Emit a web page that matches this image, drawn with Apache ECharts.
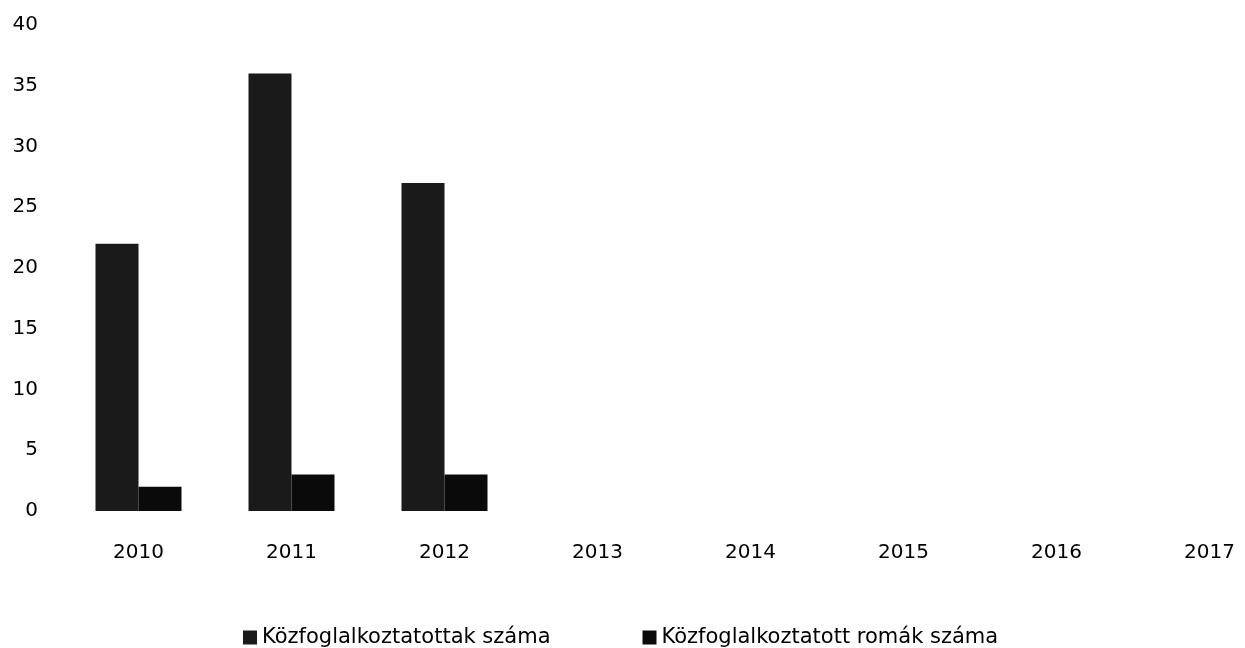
<!DOCTYPE html>
<html>
<head>
<meta charset="utf-8">
<script src="https://cdn.jsdelivr.net/npm/echarts@6/dist/echarts.min.js"></script>
<style>
  html, body { margin: 0; padding: 0; background: #fff; }
  #chart { width: 1245px; height: 648px; }
</style>
</head>
<body>
<div id="chart"></div>
<script>
const years = ['2010', '2011', '2012', '2013', '2014', '2015', '2016', '2017']
const allWorkers = [22, 36, 27, null, null, null, null, null]
const romaWorkers = [2, 3, 3, null, null, null, null, null]
const seriesNames = ['Közfoglalkoztatottak száma', 'Közfoglalkoztatott romák száma']

const font = '"DejaVu Sans", sans-serif'

const option = {
  animation: false,
  textStyle: { fontFamily: font },
  grid: {
    left: 62,
    width: 1224,
    top: 25,
    bottom: 137,
    outerBoundsMode: 'none'
  },
  legend: {
    bottom: -5,
    left: 238,
    itemWidth: 14,
    itemHeight: 14,
    itemGap: 92,
    icon: 'rect',
    textStyle: { fontSize: 21, color: '#000', fontFamily: font },
    data: seriesNames
  },
  xAxis: {
    type: 'category',
    data: years,
    axisLine: { show: false },
    axisTick: { show: false },
    axisLabel: { fontSize: 20, color: '#000', margin: 32 }
  },
  yAxis: {
    type: 'value',
    min: 0,
    max: 40,
    interval: 5,
    axisLine: { show: false },
    axisTick: { show: false },
    splitLine: { show: false },
    axisLabel: { fontSize: 20, color: '#000', margin: 24 }
  },
  series: [
    {
      name: seriesNames[0],
      type: 'bar',
      data: allWorkers,
      barWidth: 43,
      barGap: '0%',
      itemStyle: { color: '#1a1a1a' }
    },
    {
      name: seriesNames[1],
      type: 'bar',
      data: romaWorkers,
      barWidth: 43,
      itemStyle: { color: '#0a0a0a' }
    }
  ]
}

const myChart = echarts.init(document.getElementById('chart'))
myChart.setOption(option)
</script>
</body>
</html>
